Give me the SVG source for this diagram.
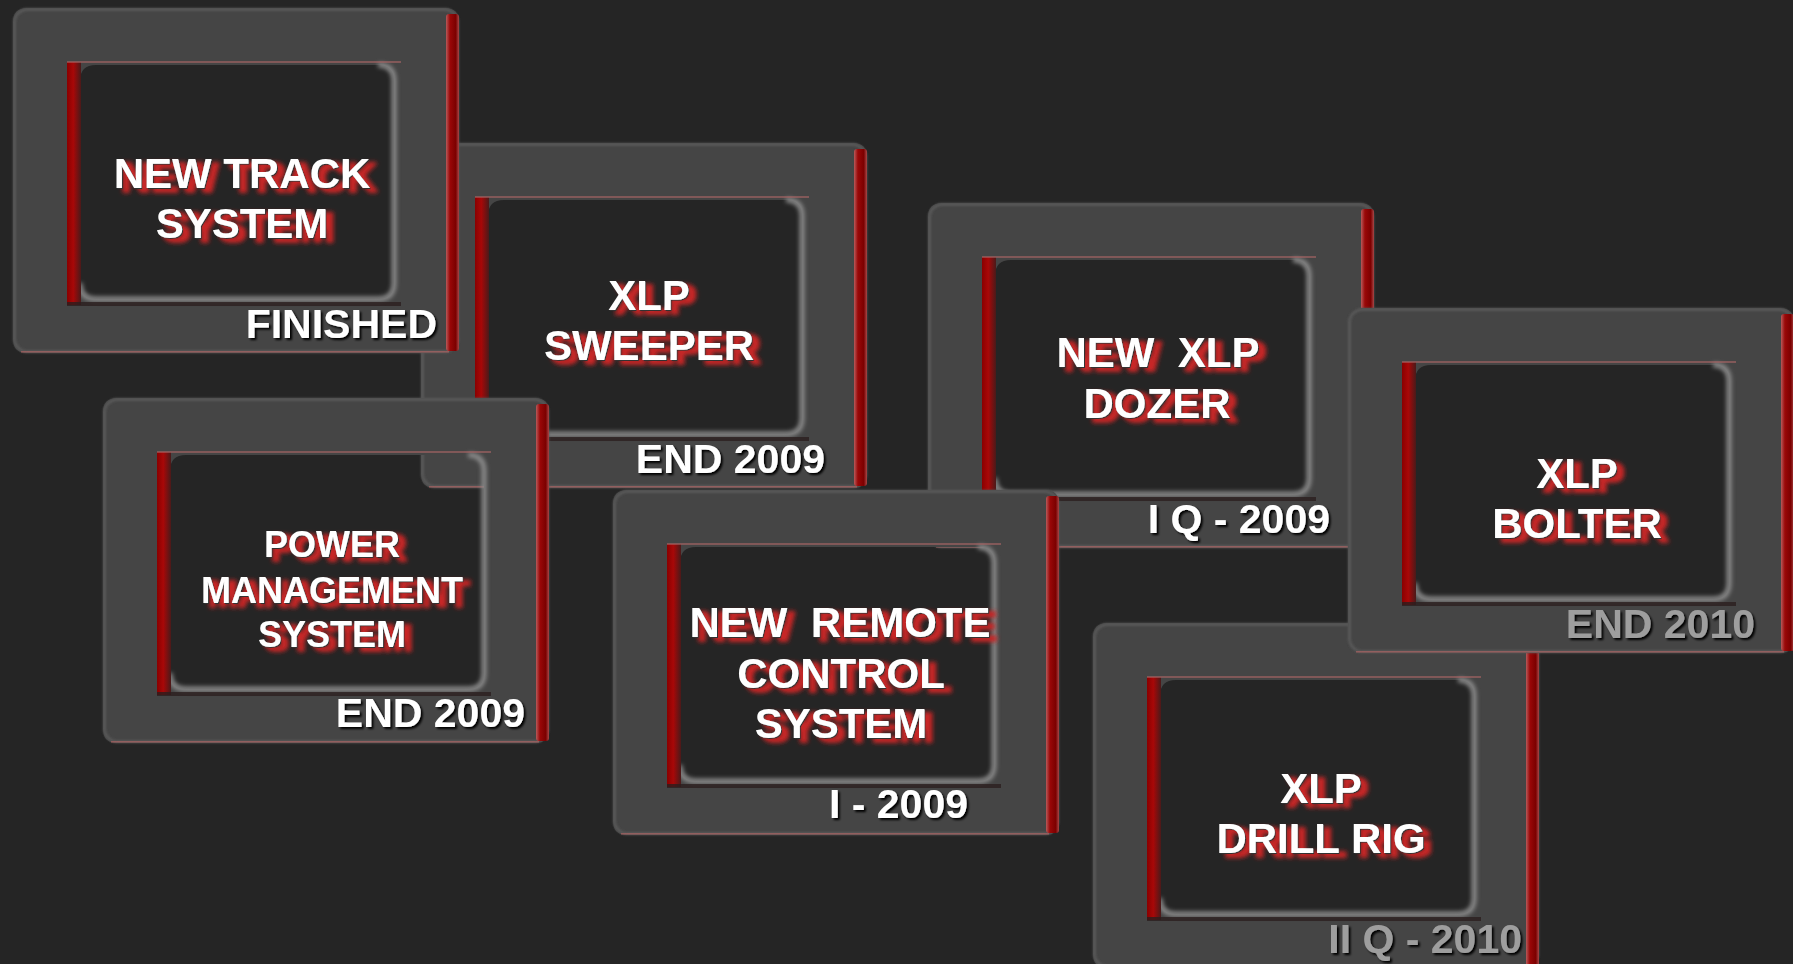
<svg xmlns="http://www.w3.org/2000/svg" xmlns:xlink="http://www.w3.org/1999/xlink" width="1793" height="964" viewBox="0 0 1793 964">
<style>
.t{font-family:"Liberation Sans",Arial,sans-serif;font-weight:bold;font-size:42px;fill:#fff;text-anchor:middle;filter:url(#ts)}
.s{font-size:36px}
.l{font-family:"Liberation Sans",Arial,sans-serif;font-weight:bold;font-size:41px;fill:#fff;text-anchor:end;filter:url(#ls)}
.g{fill:#9e9e9e}
</style>
<defs>
  <filter id="ts" x="-15%" y="-40%" width="135%" height="190%">
    <feMorphology in="SourceAlpha" operator="dilate" radius="1.2" result="d"/>
    <feGaussianBlur in="d" stdDeviation="1.9" result="b"/>
    <feOffset in="b" dx="7" dy="4" result="o"/>
    <feFlood flood-color="#c82626"/>
    <feComposite in2="o" operator="in" result="red"/>
    <feOffset in="SourceAlpha" dx="1" dy="1" result="o2"/>
    <feGaussianBlur in="o2" stdDeviation="0.7" result="b2"/>
    <feFlood flood-color="#333"/>
    <feComposite in2="b2" operator="in" result="dk"/>
    <feMerge><feMergeNode in="red"/><feMergeNode in="dk"/><feMergeNode in="SourceGraphic"/></feMerge>
  </filter>
  <filter id="ls" x="-5%" y="-20%" width="115%" height="150%">
    <feOffset in="SourceAlpha" dx="2" dy="2" result="o"/>
    <feGaussianBlur in="o" stdDeviation="0.8" result="b"/>
    <feFlood flood-color="#000"/>
    <feComposite in2="b" operator="in" result="sh"/>
    <feMerge><feMergeNode in="sh"/><feMergeNode in="SourceGraphic"/></feMerge>
  </filter>
  <filter id="bl" x="-5%" y="-5%" width="110%" height="110%"><feGaussianBlur stdDeviation="2.2"/></filter>
  <filter id="bl1" x="-5%" y="-5%" width="110%" height="110%"><feGaussianBlur stdDeviation="1.2"/></filter>
  <linearGradient id="rr" x1="0" x2="1" y1="0" y2="0">
    <stop offset="0" stop-color="#b85a5a"/><stop offset="0.3" stop-color="#9a0808"/><stop offset="0.75" stop-color="#7c0000"/><stop offset="1" stop-color="#a84848"/>
  </linearGradient>
  <linearGradient id="rl" x1="0" x2="1" y1="0" y2="0">
    <stop offset="0" stop-color="#8a0000"/><stop offset="0.45" stop-color="#a80808"/><stop offset="1" stop-color="#4a1a1a"/>
  </linearGradient>
  <g id="frame">
    <path fill="#454545" fill-rule="evenodd" d="M14,0 H432 Q446,0 446,14 V331 Q446,345 432,345 H14 Q0,345 0,331 V14 Q0,0 14,0 Z M83,57 H365 Q381,57 381,73 V275 Q381,291 365,291 H83 Q67,291 67,275 V73 Q67,57 83,57 Z"/>
    <rect x="1.5" y="1.5" width="443" height="342" rx="13" fill="none" stroke="#585858" stroke-width="3" filter="url(#bl1)"/>
    <path d="M365,57 Q381,57 381,73 V275 Q381,291 365,291 H83 Q67,291 67,275" fill="none" stroke="#8c8c8c" stroke-width="5" filter="url(#bl)"/>
    <rect x="54" y="54" width="14" height="243" fill="url(#rl)"/>
    <rect x="54" y="53" width="334" height="2" fill="#a66" opacity="0.6"/>
    <rect x="54" y="294" width="334" height="4" fill="#2b1e1e" opacity="0.8"/>
    <rect x="433" y="6" width="13" height="337" rx="3" fill="url(#rr)"/>
    <rect x="8" y="343" width="428" height="1.6" fill="#b66" opacity="0.6"/>
  </g>
</defs>
<rect width="1793" height="964" fill="#252525"/>
<g id="connectors"/>
<g id="n2" transform="translate(421,143)">
  <use xlink:href="#frame"/>
  <text class="t" x="228" y="167">XLP</text>
  <text class="t" x="228" y="217">SWEEPER</text>
  <text class="l" x="404" y="330">END 2009</text>
</g>
<g id="n3" transform="translate(928,203)">
  <use xlink:href="#frame"/>
  <text class="t" x="230" y="164" xml:space="preserve">NEW  XLP</text>
  <text class="t" x="229" y="215">DOZER</text>
  <text class="l" x="402" y="330">I Q - 2009</text>
</g>
<g id="n7" transform="translate(1093,623)">
  <use xlink:href="#frame"/>
  <text class="t" x="228" y="180">XLP</text>
  <text class="t" x="228" y="230">DRILL RIG</text>
  <text class="l g" x="429" y="330">II Q - 2010</text>
</g>
<g id="n1" transform="translate(13,8)">
  <use xlink:href="#frame"/>
  <text class="t" x="229" y="180">NEW TRACK</text>
  <text class="t" x="229" y="230">SYSTEM</text>
  <text class="l" x="424" y="330">FINISHED</text>
</g>
<g id="n5" transform="translate(103,398)">
  <use xlink:href="#frame"/>
  <text class="t s" x="229" y="159">POWER</text>
  <text class="t s" x="229" y="205">MANAGEMENT</text>
  <text class="t s" x="229" y="249">SYSTEM</text>
  <text class="l" x="422" y="329">END 2009</text>
</g>
<g id="n6" transform="translate(613,490)">
  <use xlink:href="#frame"/>
  <text class="t" x="227" y="147" xml:space="preserve">NEW  REMOTE</text>
  <text class="t" x="228" y="198">CONTROL</text>
  <text class="t" x="228" y="248">SYSTEM</text>
  <text class="l" x="355" y="328">I - 2009</text>
</g>
<g id="n4" transform="translate(1348,308)">
  <use xlink:href="#frame"/>
  <text class="t" x="229" y="180">XLP</text>
  <text class="t" x="229" y="230">BOLTER</text>
  <text class="l g" x="407" y="330">END 2010</text>
</g>
</svg>
